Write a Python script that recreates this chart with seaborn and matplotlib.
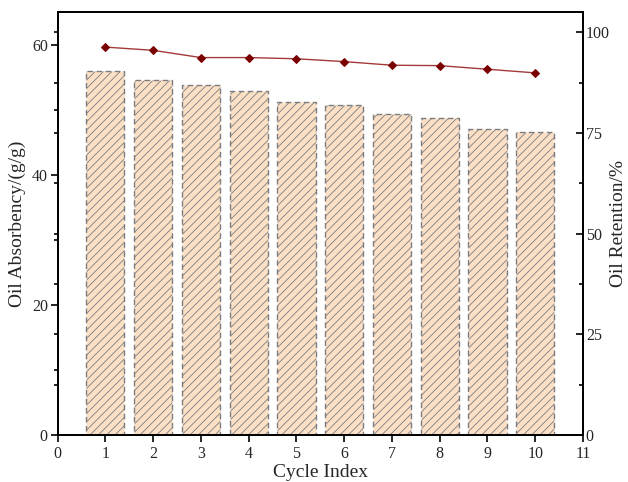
import matplotlib
matplotlib.use("Agg")
import matplotlib.pyplot as plt
from matplotlib.ticker import FixedLocator
import seaborn as sns
import pandas as pd

cycles = [1, 2, 3, 4, 5, 6, 7, 8, 9, 10]
absorbency = [55.9, 54.6, 53.8, 52.9, 51.2, 50.7, 49.4, 48.7, 47.1, 46.5]
retention = [96.3, 95.5, 93.7, 93.7, 93.4, 92.7, 91.8, 91.7, 90.8, 89.9]
x_ticks = [0, 1, 2, 3, 4, 5, 6, 7, 8, 9, 10, 11]
left_ticks = [0, 20, 40, 60]
right_ticks = [0, 25, 50, 75, 100]

df = pd.DataFrame({"cycle": cycles, "abs": absorbency, "ret": retention})

sns.set_theme(style="white")
plt.rcParams["font.family"] = ["Liberation Serif", "DejaVu Serif"]
plt.rcParams["hatch.color"] = "#8f8478"
plt.rcParams["hatch.linewidth"] = 0.6

fig = plt.figure(figsize=(6.28, 4.82), dpi=100)
ax = fig.add_axes([0.0916, 0.0975, 0.8368, 0.8775])

sns.barplot(data=df, x="cycle", y="abs", native_scale=True, ax=ax,
            color="#fbe0c6", width=0.8, saturation=1,
            edgecolor="#7d7d7d", linewidth=1.0)
for p in ax.patches:
    p.set_hatch("////")
    p.set_facecolor("#fbe0c6")
    p.set_edgecolor("#7d7d7d")
    p.set_linestyle((0, (4, 2.5)))

ax.set_xlim(0, 11)
ax.set_ylim(0, 65)
ax.set_xticks(x_ticks)
ax.set_yticks(left_ticks)
# left spine minor ticks (own + mirrored right-axis ticks)
rt_minor = [v * 65 / 105 for v in [12.5, 25, 37.5, 50, 62.5, 75, 87.5, 100]]
ax.yaxis.set_minor_locator(FixedLocator([10, 30, 50] + rt_minor))
ax.tick_params(axis="x", which="both", direction="out", length=5, width=1.2,
               labelsize=11.5, bottom=True, top=False, color="black", pad=3)
ax.tick_params(axis="y", which="major", direction="out", length=5, width=1.2,
               labelsize=11.5, left=True, color="black", pad=2)
ax.tick_params(axis="y", which="minor", direction="out", length=3, width=1.2,
               left=True, color="black")
ax.set_xlabel("Cycle Index", fontsize=14, labelpad=1)
ax.set_ylabel("Oil Absorbency/(g/g)", fontsize=14, labelpad=4)
for s in ax.spines.values():
    s.set_color("black")
    s.set_linewidth(1.3)

ax2 = ax.twinx()
sns.lineplot(data=df, x="cycle", y="ret", ax=ax2, color="#a33a3a",
             linewidth=1.0, marker="D", markersize=4.5,
             markerfacecolor="#7a0000", markeredgecolor="#7a0000")
ax2.set_ylim(0, 105)
ax2.set_yticks(right_ticks)
ax2.yaxis.set_minor_locator(FixedLocator([12.5, 37.5, 62.5, 87.5]))
ax2.tick_params(axis="y", which="major", direction="in", length=5, width=1.2,
                labelsize=11.5, right=True, left=False, color="black", pad=2)
ax2.tick_params(axis="y", which="minor", direction="in", length=3, width=1.2,
                right=True, left=False, color="black")
ax2.set_ylabel("Oil Retention/%", fontsize=14)
ax2.yaxis.set_label_coords(1.052, 0.5)
ax2.grid(False)
ax.grid(False)
for s in ax2.spines.values():
    s.set_color("black")
    s.set_linewidth(1.3)

fig.savefig("out.png", dpi=100)
